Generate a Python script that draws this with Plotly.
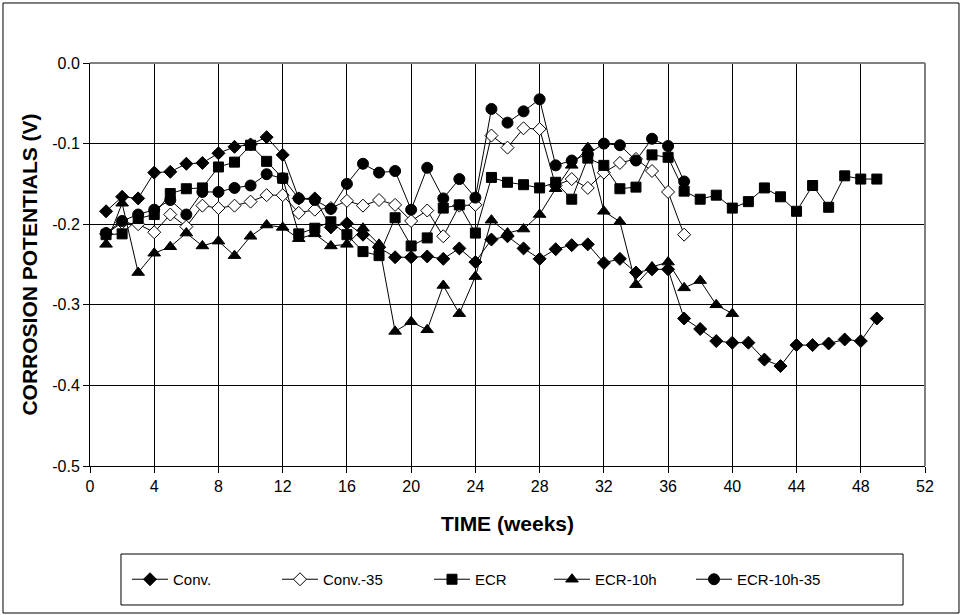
import plotly.graph_objects as go

weeks_conv = list(range(1, 50))
conv = [-0.184, -0.166, -0.168, -0.136, -0.135, -0.125, -0.124, -0.112, -0.104, -0.101,
        -0.092, -0.114, -0.168, -0.168, -0.204, -0.199, -0.213, -0.229, -0.241, -0.241,
        -0.240, -0.243, -0.230, -0.247, -0.219, -0.215, -0.230, -0.243, -0.231, -0.226,
        -0.225, -0.248, -0.243, -0.260, -0.256, -0.256, -0.317, -0.330, -0.345, -0.347,
        -0.347, -0.368, -0.376, -0.350, -0.350, -0.348, -0.343, -0.345, -0.317]

weeks_conv35 = list(range(1, 38))
conv35 = [-0.212, -0.198, -0.200, -0.210, -0.188, -0.203, -0.177, -0.180, -0.177, -0.172,
          -0.164, -0.164, -0.186, -0.182, -0.180, -0.171, -0.177, -0.170, -0.176, -0.196,
          -0.183, -0.215, -0.177, -0.176, -0.090, -0.105, -0.081, -0.082, -0.152, -0.144,
          -0.155, -0.136, -0.124, -0.119, -0.134, -0.160, -0.213]

weeks_ecr = list(range(1, 50))
ecr = [-0.213, -0.212, -0.193, -0.188, -0.162, -0.156, -0.155, -0.129, -0.123, -0.102,
       -0.122, -0.143, -0.212, -0.205, -0.197, -0.213, -0.234, -0.239, -0.192, -0.227,
       -0.217, -0.180, -0.176, -0.211, -0.142, -0.148, -0.151, -0.155, -0.148, -0.169,
       -0.118, -0.127, -0.156, -0.154, -0.114, -0.117, -0.159, -0.169, -0.164, -0.180,
       -0.172, -0.155, -0.166, -0.184, -0.152, -0.179, -0.140, -0.144, -0.144]

weeks_ecr10 = list(range(1, 41))
ecr10 = [-0.225, -0.174, -0.260, -0.236, -0.228, -0.211, -0.227, -0.221, -0.239, -0.215,
         -0.201, -0.204, -0.218, -0.212, -0.227, -0.225, -0.205, -0.225, -0.333, -0.321,
         -0.331, -0.276, -0.311, -0.265, -0.195, -0.211, -0.206, -0.188, -0.156, -0.127,
         -0.105, -0.184, -0.197, -0.275, -0.253, -0.247, -0.279, -0.270, -0.300, -0.311]

weeks_ecr1035 = list(range(1, 38))
ecr1035 = [-0.211, -0.196, -0.188, -0.182, -0.170, -0.188, -0.160, -0.160, -0.155, -0.152,
           -0.138, -0.143, -0.168, -0.170, -0.181, -0.150, -0.125, -0.136, -0.134, -0.182,
           -0.130, -0.168, -0.144, -0.167, -0.057, -0.074, -0.060, -0.045, -0.127, -0.121,
           -0.113, -0.100, -0.102, -0.121, -0.094, -0.103, -0.147]

x_tick_vals = list(range(0, 53, 4))
x_tick_text = [str(v) for v in x_tick_vals]
y_tick_vals = [0.0, -0.1, -0.2, -0.3, -0.4, -0.5]
y_tick_text = ["0.0", "-0.1", "-0.2", "-0.3", "-0.4", "-0.5"]

series = [
    ("Conv.", weeks_conv, conv, "diamond", "black", 10, 99),
    ("Conv.-35", weeks_conv35, conv35, "diamond", "white", 10, 101),
    ("ECR", weeks_ecr, ecr, "square", "black", 10, 69),
    ("ECR-10h", weeks_ecr10, ecr10, "triangle-up", "black", 11, 91),
    ("ECR-10h-35", weeks_ecr1035, ecr1035, "circle", "black", 11, 90),
]

FONT = "Liberation Sans, Arial, sans-serif"

fig = go.Figure()
for name, xs, ys, sym, fill, size, lw in series:
    fig.add_trace(go.Scatter(
        x=xs, y=ys, name=name, mode="lines+markers",
        line=dict(color="black", width=1),
        marker=dict(symbol=sym, size=size, color=fill,
                    line=dict(color="black", width=1)),
        legendwidth=lw,
    ))

fig.update_layout(
    width=962, height=615,
    margin=dict(l=90, r=37, t=63, b=149),
    paper_bgcolor="white", plot_bgcolor="white",
    font=dict(family=FONT, size=16, color="black"),
    showlegend=True,
    legend=dict(orientation="h", x=0.0443, xanchor="left", y=-0.2816, yanchor="middle",
                bgcolor="rgba(0,0,0,0)", borderwidth=0, itemwidth=36,
                font=dict(family=FONT, size=15, color="black")),
    xaxis=dict(range=[0, 52], tickmode="array", tickvals=x_tick_vals, ticktext=x_tick_text,
               showgrid=True, gridcolor="black", gridwidth=1,
               showline=True, linecolor="black", linewidth=1,
               ticks="outside", ticklen=6, tickcolor="black", zeroline=False,
               title=dict(text="<b>TIME (weeks)</b>", font=dict(family=FONT, size=21), standoff=22)),
    yaxis=dict(range=[-0.5, 0.0], tickmode="array", tickvals=y_tick_vals, ticktext=y_tick_text,
               showgrid=True, gridcolor="black", gridwidth=1,
               showline=True, linecolor="black", linewidth=1,
               ticks="outside", ticklen=6, tickcolor="black", zeroline=False,
               title=dict(text="<b>CORROSION POTENTIALS (V)</b>", font=dict(family=FONT, size=21), standoff=8)),
    shapes=[
        dict(type="line", xref="x domain", yref="y domain", x0=0, x1=1, y0=1, y1=1,
             line=dict(color="#808080", width=2), layer="above"),
        dict(type="line", xref="x domain", yref="y domain", x0=1, x1=1, y0=0, y1=1,
             line=dict(color="#808080", width=2), layer="above"),
        dict(type="rect", xref="paper", yref="paper", x0=0.0371, x1=0.9737, y0=-0.3449, y1=-0.2184,
             line=dict(color="black", width=1), fillcolor="rgba(0,0,0,0)", layer="above"),
        dict(type="rect", xref="paper", yref="paper", x0=-0.1042, x1=1.0407, y0=-0.3648, y1=1.1489,
             line=dict(color="black", width=1), fillcolor="rgba(0,0,0,0)", layer="above"),
    ],
)

fig.write_html("out.html")
